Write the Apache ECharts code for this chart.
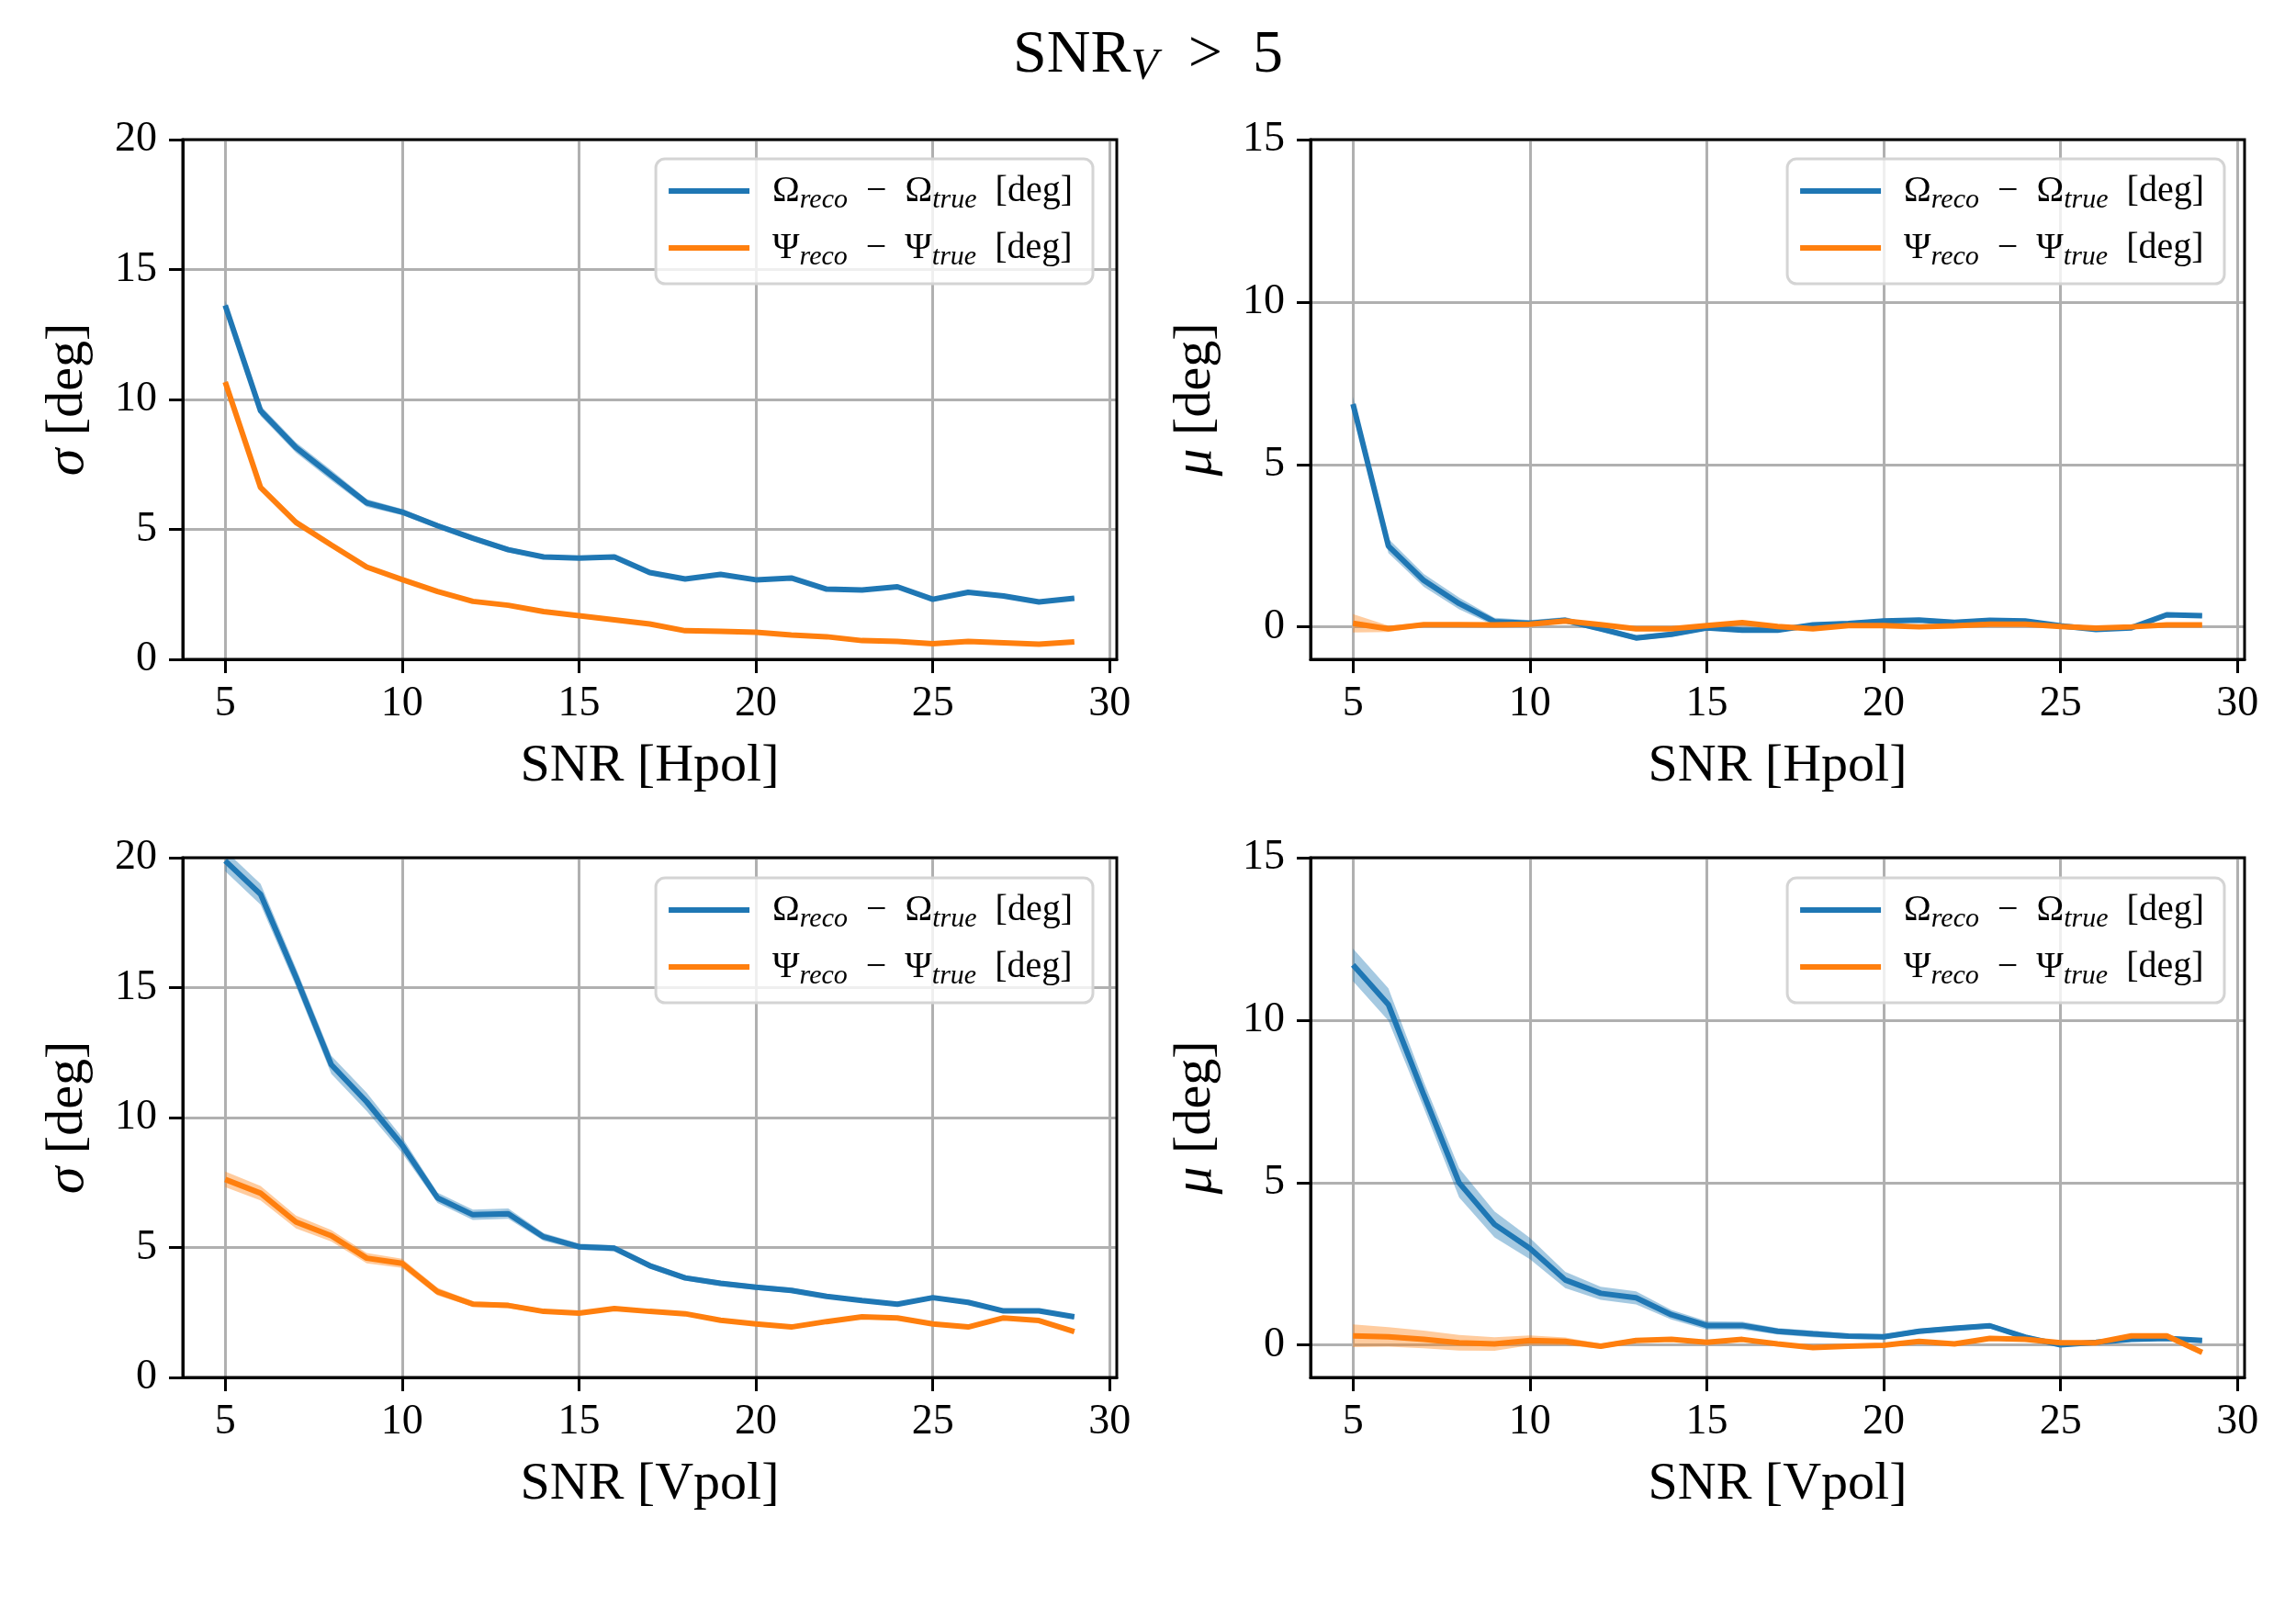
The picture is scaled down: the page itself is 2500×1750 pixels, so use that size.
<!DOCTYPE html>
<html>
<head>
<meta charset="utf-8">
<script src="https://cdn.jsdelivr.net/npm/echarts@6/dist/echarts.min.js"></script>
<style>
html,body{margin:0;padding:0;background:#fff;}
#chart{width:2500px;height:1750px;}
</style>
</head>
<body>
<div id="chart"></div>
<script>
// ---- data ----
const snr = [5,6,7,8,9,10,11,12,13,14,15,16,17,18,19,20,21,22,23,24,25,26,27,28,29];
const xTicks = [5,10,15,20,25,30];
const sigmaTicks = [0,5,10,15,20];
const muTicks = [0,5,10,15];

// sigma, Hpol
const sigH_omega = [13.62,9.56,8.15,7.08,6.02,5.67,5.14,4.66,4.22,3.94,3.90,3.94,3.34,3.09,3.27,3.06,3.13,2.70,2.67,2.79,2.31,2.58,2.44,2.21,2.35];
const sigH_omega_err = [0.2,0.2,0.2,0.2,0.15,0.12,0.1,0.1,0.1,0.08,0.08,0.08,0.08,0.08,0.07,0.07,0.07,0.07,0.07,0.07,0.07,0.07,0.06,0.06,0.06];
const sigH_psi = [10.67,6.61,5.27,4.40,3.55,3.07,2.61,2.23,2.08,1.84,1.68,1.52,1.36,1.10,1.08,1.04,0.94,0.87,0.72,0.69,0.60,0.69,0.64,0.58,0.67];
const sigH_psi_err = [0.08,0.06,0.05,0.05,0.05,0.04,0.04,0.04,0.04,0.04,0.03,0.03,0.03,0.03,0.03,0.03,0.03,0.03,0.03,0.03,0.03,0.03,0.03,0.03,0.03];

// mu, Hpol
const muH_omega = [6.86,2.49,1.43,0.72,0.16,0.11,0.20,-0.06,-0.34,-0.23,-0.03,-0.10,-0.10,0.06,0.10,0.18,0.21,0.14,0.20,0.18,0.03,-0.08,-0.03,0.37,0.34];
const muH_omega_err = [0.22,0.22,0.2,0.18,0.12,0.1,0.1,0.08,0.08,0.08,0.07,0.07,0.07,0.07,0.07,0.07,0.07,0.07,0.07,0.07,0.06,0.06,0.06,0.06,0.06];
const muH_psi = [0.11,-0.06,0.07,0.07,0.06,0.08,0.18,0.07,-0.06,-0.06,0.04,0.13,0.01,-0.06,0.04,0.04,0.0,0.03,0.08,0.08,0.01,-0.04,0.0,0.06,0.06];
const muH_psi_err = [0.28,0.1,0.06,0.05,0.05,0.05,0.05,0.04,0.04,0.04,0.04,0.04,0.04,0.04,0.04,0.04,0.04,0.04,0.04,0.04,0.04,0.04,0.04,0.04,0.04];

// sigma, Vpol
const sigV_omega = [19.88,18.59,15.4,12.03,10.6,8.94,6.91,6.26,6.30,5.41,5.03,4.97,4.30,3.83,3.62,3.47,3.35,3.12,2.96,2.82,3.07,2.89,2.56,2.56,2.33];
const sigV_omega_err = [0.4,0.4,0.35,0.35,0.35,0.3,0.2,0.2,0.2,0.15,0.12,0.12,0.1,0.1,0.1,0.1,0.1,0.08,0.08,0.08,0.08,0.08,0.08,0.07,0.07];
const sigV_psi = [7.62,7.09,5.98,5.45,4.59,4.39,3.30,2.82,2.77,2.54,2.47,2.65,2.54,2.45,2.20,2.06,1.94,2.15,2.33,2.29,2.06,1.94,2.29,2.19,1.76];
const sigV_psi_err = [0.3,0.28,0.25,0.22,0.2,0.18,0.15,0.1,0.1,0.08,0.07,0.07,0.06,0.06,0.06,0.06,0.06,0.05,0.05,0.05,0.05,0.05,0.05,0.05,0.05];

// mu, Vpol
const muV_omega = [11.70,10.48,7.7,4.99,3.71,2.97,2.0,1.59,1.45,0.93,0.60,0.60,0.42,0.34,0.27,0.25,0.42,0.51,0.59,0.24,0.0,0.08,0.17,0.20,0.14];
const muV_omega_err = [0.5,0.5,0.4,0.45,0.4,0.33,0.25,0.2,0.2,0.15,0.13,0.12,0.1,0.1,0.08,0.08,0.08,0.08,0.08,0.08,0.07,0.07,0.07,0.07,0.07];
const muV_psi = [0.28,0.25,0.17,0.07,0.03,0.14,0.11,-0.04,0.14,0.17,0.08,0.17,0.03,-0.08,-0.04,-0.01,0.11,0.03,0.20,0.17,0.07,0.07,0.28,0.28,-0.23];
const muV_psi_err = [0.35,0.3,0.27,0.24,0.21,0.15,0.12,0.08,0.07,0.06,0.06,0.05,0.05,0.05,0.05,0.05,0.05,0.05,0.05,0.05,0.05,0.05,0.05,0.05,0.05];

// ---- styling ----
const FONT = 'Liberation Serif';
const BLUE = '#1f77b4', ORANGE = '#ff7f0e';
const BLUE_BAND = 'rgba(31,119,180,0.4)', ORANGE_BAND = 'rgba(255,127,14,0.4)';

const panels = [
  {grid:{left:199, top:152, width:1017, height:566}, ymin:0, ymax:20, yTicks:sigmaTicks, ylab:'σ', xlab:'Hpol',
   om:sigH_omega, omE:sigH_omega_err, ps:sigH_psi, psE:sigH_psi_err, legend:{right:1310, top:173}},
  {grid:{left:1427, top:152, width:1017, height:566}, ymin:-1, ymax:15, yTicks:muTicks, ylab:'μ', xlab:'Hpol',
   om:muH_omega, omE:muH_omega_err, ps:muH_psi, psE:muH_psi_err, legend:{right:78, top:173}},
  {grid:{left:199, top:934, width:1017, height:566}, ymin:0, ymax:20, yTicks:sigmaTicks, ylab:'σ', xlab:'Vpol',
   om:sigV_omega, omE:sigV_omega_err, ps:sigV_psi, psE:sigV_psi_err, legend:{right:1310, top:956}},
  {grid:{left:1427, top:934, width:1017, height:566}, ymin:-1, ymax:15, yTicks:muTicks, ylab:'μ', xlab:'Vpol',
   om:muV_omega, omE:muV_omega_err, ps:muV_psi, psE:muV_psi_err, legend:{right:78, top:956}}
];

const grids = [], xAxes = [], yAxes = [], series = [], legends = [];
const pairs = (ys) => snr.map((x,i) => [x, ys[i]]);

function bandSeries(k, mean, err, color) {
  const data = snr.map((x,i) => [x, mean[i]-err[i], mean[i]+err[i]]);
  return {
    type:'custom', xAxisIndex:k, yAxisIndex:k, silent:true, z:1, clip:true,
    data:data, encode:{x:0, y:[1,2]},
    renderItem:function(params, api){
      if (params.dataIndex !== 0) return null;
      const pts = [];
      for (let i = 0; i < data.length; i++) pts.push(api.coord([data[i][0], data[i][2]]));
      for (let i = data.length-1; i >= 0; i--) pts.push(api.coord([data[i][0], data[i][1]]));
      return {type:'polygon', shape:{points:pts}, style:{fill:color, stroke:null}};
    }
  };
}

panels.forEach((p, k) => {
  grids.push(Object.assign({show:true, borderColor:'#000', borderWidth:3, backgroundColor:'transparent', z:5}, p.grid));
  xAxes.push({
    type:'value', gridIndex:k, min:3.8, max:30.2,
    axisLine:{show:true, onZero:false, lineStyle:{color:'#000', width:3}},
    axisTick:{show:true, length:15, lineStyle:{color:'#000', width:3}, customValues:xTicks},
    axisLabel:{customValues:xTicks, fontFamily:FONT, fontSize:46, color:'#000', margin:26},
    splitLine:{show:true, lineStyle:{color:'#b0b0b0', width:3}},
    name:'{r|SNR [' + p.xlab + ']}', nameLocation:'middle', nameGap:88,
    nameTextStyle:{rich:{r:{fontFamily:FONT, fontSize:58, color:'#000'}}}
  });
  yAxes.push({
    type:'value', gridIndex:k, min:p.ymin, max:p.ymax,
    axisLine:{show:true, onZero:false, lineStyle:{color:'#000', width:3}},
    axisTick:{show:true, length:15, lineStyle:{color:'#000', width:3}, customValues:p.yTicks},
    axisLabel:{customValues:p.yTicks, fontFamily:FONT, fontSize:46, color:'#000', margin:28},
    splitLine:{show:true, lineStyle:{color:'#b0b0b0', width:3}},
    name:'{i|' + p.ylab + '}{r| [deg]}', nameLocation:'middle', nameRotate:90, nameGap:95,
    nameTextStyle:{rich:{
      i:{fontFamily:FONT, fontSize:60, fontStyle:'italic', color:'#000'},
      r:{fontFamily:FONT, fontSize:58, color:'#000'}
    }}
  });
  series.push(bandSeries(k, p.om, p.omE, BLUE_BAND));
  series.push(bandSeries(k, p.ps, p.psE, ORANGE_BAND));
  series.push({type:'line', name:'omega', xAxisIndex:k, yAxisIndex:k, data:pairs(p.om),
    symbol:'none', lineStyle:{color:BLUE, width:6}, itemStyle:{color:BLUE}, z:3});
  series.push({type:'line', name:'psi', xAxisIndex:k, yAxisIndex:k, data:pairs(p.ps),
    symbol:'none', lineStyle:{color:ORANGE, width:6}, itemStyle:{color:ORANGE}, z:4});

  legends.push({
    data:['omega','psi'], orient:'vertical', right:p.legend.right, top:p.legend.top,
    icon:'rect', itemWidth:88, itemHeight:6, itemGap:12,
    padding:[10,22,14,14], backgroundColor:'rgba(255,255,255,0.8)',
    borderColor:'#d4d4d4', borderWidth:3, borderRadius:10, z:10, selectedMode:false,
    formatter: function(name){
      const G = name === 'omega' ? 'Ω' : 'Ψ';
      return '{sp|}{g|' + G + '}{s|reco}{g|  −  ' + G + '}{s|true}{g|  [deg]}';
    },
    textStyle:{rich:{
      sp:{width:20, height:50, lineHeight:50},
      g:{fontFamily:FONT, fontSize:40, color:'#000', lineHeight:50, verticalAlign:'middle'},
      s:{fontFamily:FONT, fontSize:30, fontStyle:'italic', color:'#000', lineHeight:30, verticalAlign:'bottom'}
    }}
  });
});

const option = {
  backgroundColor:'#fff',
  animation:false,
  title:{
    text:'{a|SNR}{v|V}{a|  >  5}', left:'center', top:20,
    textStyle:{fontWeight:'normal', rich:{
      a:{fontFamily:FONT, fontSize:66, fontWeight:'normal', color:'#000', lineHeight:72, verticalAlign:'middle'},
      v:{fontFamily:FONT, fontSize:48, fontWeight:'normal', fontStyle:'italic', color:'#000', lineHeight:40, verticalAlign:'bottom'}
    }}
  },
  grid:grids, xAxis:xAxes, yAxis:yAxes, legend:legends, series:series
};

const chart = echarts.init(document.getElementById('chart'), null, {renderer:'canvas'});
chart.setOption(option);
</script>
</body>
</html>
